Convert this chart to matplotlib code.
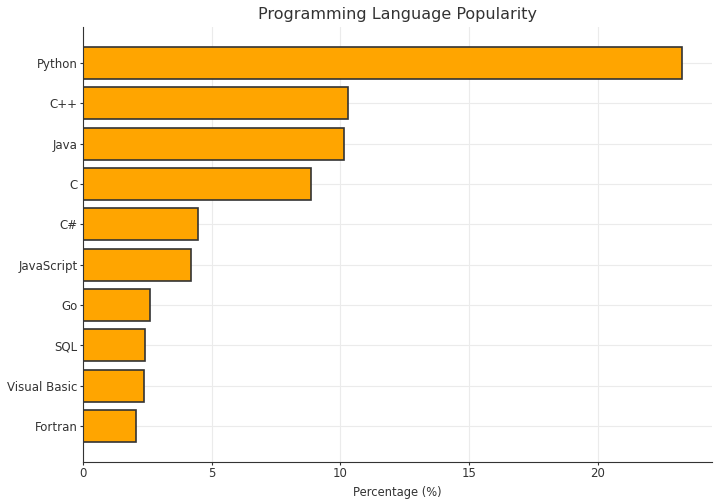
import matplotlib

matplotlib.use("Agg")
import matplotlib.pyplot as plt  # noqa: E402

languages = ["Python", "C++", "Java", "C", "C#", "JavaScript", "Go", "SQL",
             "Visual Basic", "Fortran"]
popularity = [23.28, 10.29, 10.15, 8.86, 4.45, 4.20, 2.61, 2.41, 2.37, 2.04]

fig = plt.figure(figsize=(7.2, 5.01), dpi=100)
ax = fig.add_axes([0.1153, 0.078, 0.8737, 0.868])

ax.barh(languages, popularity, color="orange", edgecolor="#333333", linewidth=1.2)
ax.invert_yaxis()

ax.set_title("Programming Language Popularity", fontsize=11.5, color="#333333")
ax.set_xlabel("Percentage (%)", fontsize=8.3, color="#333333", labelpad=4)
ax.tick_params(labelsize=8.5, colors="#333333", length=2, pad=2)
ax.grid(True, color="#ebebeb", linewidth=0.8)
ax.set_axisbelow(True)
for side in ("top", "right"):
    ax.spines[side].set_visible(False)
for side in ("left", "bottom"):
    ax.spines[side].set_color("#333333")

fig.savefig("out.png")
plt.close(fig)
